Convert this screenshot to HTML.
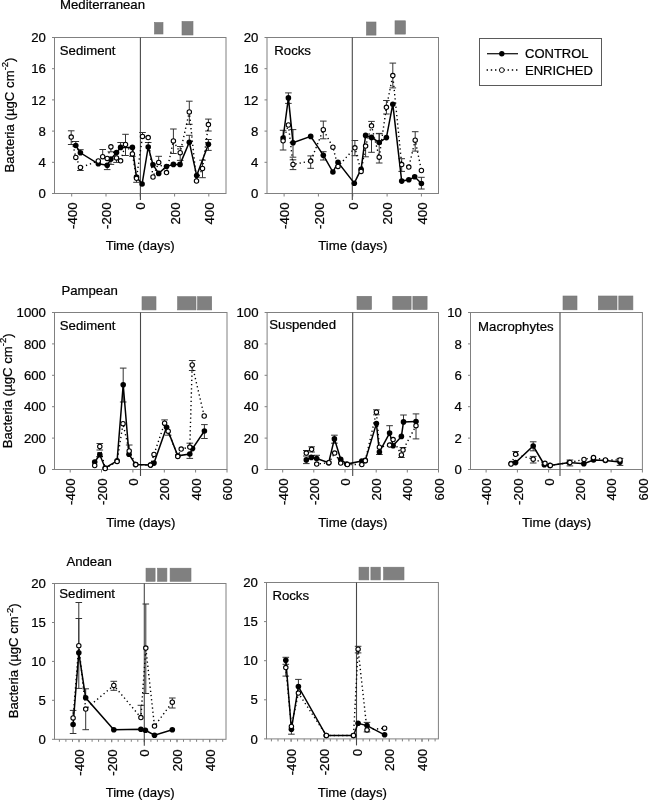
<!DOCTYPE html><html><head><meta charset="utf-8"><style>html,body{margin:0;padding:0;background:#fff;}svg{display:block;will-change:transform;}text{font-family:"Liberation Sans", sans-serif;fill:#000;stroke:#000;stroke-width:0.22px;}</style></head><body>
<svg width="648" height="800" viewBox="0 0 648 800">
<rect width="648" height="800" fill="#fff"/>
<text x="60" y="9.3" font-size="13.2">Mediterranean</text>
<text x="61.4" y="295" font-size="13.2">Pampean</text>
<text x="66.4" y="565.7" font-size="13.2">Andean</text>
<text transform="translate(13.6 115.0) rotate(-90)" font-size="13.2" text-anchor="middle">Bacteria (µgC cm<tspan font-size="9.5" dy="-5.5">-2</tspan><tspan dy="5.5">)</tspan></text>
<text transform="translate(11.8 390.8) rotate(-90)" font-size="13.2" text-anchor="middle">Bacteria (µgC cm<tspan font-size="9.5" dy="-5.5">-2</tspan><tspan dy="5.5">)</tspan></text>
<text transform="translate(18.4 660.8) rotate(-90)" font-size="13.2" text-anchor="middle">Bacteria (µgC cm<tspan font-size="9.5" dy="-5.5">-2</tspan><tspan dy="5.5">)</tspan></text>
<rect x="154.5" y="22.5" width="8.5" height="11.5" fill="#808080" stroke="#757575" stroke-width="0.6"/>
<rect x="182.0" y="21.5" width="11.0" height="13.5" fill="#808080" stroke="#757575" stroke-width="0.6"/>
<rect x="54.5" y="37.5" width="171.5" height="156.0" fill="none" stroke="#808080" stroke-width="1"/>
<line x1="52.0" y1="193.5" x2="54.5" y2="193.5" stroke="#808080" stroke-width="1"/>
<text x="45.9" y="198.1" font-size="13.2" text-anchor="end">0</text>
<line x1="52.0" y1="162.3" x2="54.5" y2="162.3" stroke="#808080" stroke-width="1"/>
<text x="45.9" y="166.9" font-size="13.2" text-anchor="end">4</text>
<line x1="52.0" y1="131.1" x2="54.5" y2="131.1" stroke="#808080" stroke-width="1"/>
<text x="45.9" y="135.7" font-size="13.2" text-anchor="end">8</text>
<line x1="52.0" y1="99.9" x2="54.5" y2="99.9" stroke="#808080" stroke-width="1"/>
<text x="45.9" y="104.5" font-size="13.2" text-anchor="end">12</text>
<line x1="52.0" y1="68.7" x2="54.5" y2="68.7" stroke="#808080" stroke-width="1"/>
<text x="45.9" y="73.3" font-size="13.2" text-anchor="end">16</text>
<line x1="52.0" y1="37.5" x2="54.5" y2="37.5" stroke="#808080" stroke-width="1"/>
<text x="45.9" y="42.1" font-size="13.2" text-anchor="end">20</text>
<line x1="71.7" y1="193.5" x2="71.7" y2="196.5" stroke="#808080" stroke-width="1"/>
<text transform="translate(76.8 202.5) rotate(-90)" font-size="13.2" text-anchor="end">-400</text>
<line x1="106.0" y1="193.5" x2="106.0" y2="196.5" stroke="#808080" stroke-width="1"/>
<text transform="translate(111.0 202.5) rotate(-90)" font-size="13.2" text-anchor="end">-200</text>
<line x1="140.2" y1="193.5" x2="140.2" y2="196.5" stroke="#808080" stroke-width="1"/>
<text transform="translate(145.3 202.5) rotate(-90)" font-size="13.2" text-anchor="end">0</text>
<line x1="174.6" y1="193.5" x2="174.6" y2="196.5" stroke="#808080" stroke-width="1"/>
<text transform="translate(179.7 202.5) rotate(-90)" font-size="13.2" text-anchor="end">200</text>
<line x1="208.8" y1="193.5" x2="208.8" y2="196.5" stroke="#808080" stroke-width="1"/>
<text transform="translate(213.9 202.5) rotate(-90)" font-size="13.2" text-anchor="end">400</text>
<line x1="140.4" y1="37.5" x2="140.4" y2="200.0" stroke="#484848" stroke-width="1.1"/>
<text x="59.8" y="54.9" font-size="13.2">Sediment</text>
<text x="140.2" y="250.4" font-size="13.2" text-anchor="middle">Time (days)</text>
<rect x="366.5" y="22.0" width="9.5" height="13.1" fill="#808080" stroke="#757575" stroke-width="0.6"/>
<rect x="395.0" y="20.8" width="10.4" height="13.3" fill="#808080" stroke="#757575" stroke-width="0.6"/>
<rect x="267.0" y="37.5" width="171.5" height="156.0" fill="none" stroke="#808080" stroke-width="1"/>
<line x1="264.5" y1="193.5" x2="267.0" y2="193.5" stroke="#808080" stroke-width="1"/>
<text x="258.4" y="198.1" font-size="13.2" text-anchor="end">0</text>
<line x1="264.5" y1="162.3" x2="267.0" y2="162.3" stroke="#808080" stroke-width="1"/>
<text x="258.4" y="166.9" font-size="13.2" text-anchor="end">4</text>
<line x1="264.5" y1="131.1" x2="267.0" y2="131.1" stroke="#808080" stroke-width="1"/>
<text x="258.4" y="135.7" font-size="13.2" text-anchor="end">8</text>
<line x1="264.5" y1="99.9" x2="267.0" y2="99.9" stroke="#808080" stroke-width="1"/>
<text x="258.4" y="104.5" font-size="13.2" text-anchor="end">12</text>
<line x1="264.5" y1="68.7" x2="267.0" y2="68.7" stroke="#808080" stroke-width="1"/>
<text x="258.4" y="73.3" font-size="13.2" text-anchor="end">16</text>
<line x1="264.5" y1="37.5" x2="267.0" y2="37.5" stroke="#808080" stroke-width="1"/>
<text x="258.4" y="42.1" font-size="13.2" text-anchor="end">20</text>
<line x1="284.1" y1="193.5" x2="284.1" y2="196.5" stroke="#808080" stroke-width="1"/>
<text transform="translate(289.2 202.5) rotate(-90)" font-size="13.2" text-anchor="end">-400</text>
<line x1="318.4" y1="193.5" x2="318.4" y2="196.5" stroke="#808080" stroke-width="1"/>
<text transform="translate(323.6 202.5) rotate(-90)" font-size="13.2" text-anchor="end">-200</text>
<line x1="352.8" y1="193.5" x2="352.8" y2="196.5" stroke="#808080" stroke-width="1"/>
<text transform="translate(357.9 202.5) rotate(-90)" font-size="13.2" text-anchor="end">0</text>
<line x1="387.1" y1="193.5" x2="387.1" y2="196.5" stroke="#808080" stroke-width="1"/>
<text transform="translate(392.2 202.5) rotate(-90)" font-size="13.2" text-anchor="end">200</text>
<line x1="421.4" y1="193.5" x2="421.4" y2="196.5" stroke="#808080" stroke-width="1"/>
<text transform="translate(426.5 202.5) rotate(-90)" font-size="13.2" text-anchor="end">400</text>
<line x1="352.3" y1="37.5" x2="352.3" y2="200.0" stroke="#484848" stroke-width="1.1"/>
<text x="274.3" y="54.9" font-size="13.2">Rocks</text>
<text x="352.8" y="250.4" font-size="13.2" text-anchor="middle">Time (days)</text>
<rect x="142.0" y="296.7" width="14.0" height="13.2" fill="#808080" stroke="#757575" stroke-width="0.6"/>
<rect x="177.6" y="296.7" width="18.4" height="13.2" fill="#808080" stroke="#757575" stroke-width="0.6"/>
<rect x="197.6" y="296.7" width="14.1" height="13.2" fill="#808080" stroke="#757575" stroke-width="0.6"/>
<rect x="54.5" y="312.5" width="172.5" height="157.0" fill="none" stroke="#808080" stroke-width="1"/>
<line x1="52.0" y1="469.5" x2="54.5" y2="469.5" stroke="#808080" stroke-width="1"/>
<text x="45.9" y="474.1" font-size="13.2" text-anchor="end">0</text>
<line x1="52.0" y1="438.1" x2="54.5" y2="438.1" stroke="#808080" stroke-width="1"/>
<text x="45.9" y="442.7" font-size="13.2" text-anchor="end">200</text>
<line x1="52.0" y1="406.7" x2="54.5" y2="406.7" stroke="#808080" stroke-width="1"/>
<text x="45.9" y="411.3" font-size="13.2" text-anchor="end">400</text>
<line x1="52.0" y1="375.3" x2="54.5" y2="375.3" stroke="#808080" stroke-width="1"/>
<text x="45.9" y="379.9" font-size="13.2" text-anchor="end">600</text>
<line x1="52.0" y1="343.9" x2="54.5" y2="343.9" stroke="#808080" stroke-width="1"/>
<text x="45.9" y="348.5" font-size="13.2" text-anchor="end">800</text>
<line x1="52.0" y1="312.5" x2="54.5" y2="312.5" stroke="#808080" stroke-width="1"/>
<text x="45.9" y="317.1" font-size="13.2" text-anchor="end">1000</text>
<line x1="70.2" y1="469.5" x2="70.2" y2="472.5" stroke="#808080" stroke-width="1"/>
<text transform="translate(75.3 478.5) rotate(-90)" font-size="13.2" text-anchor="end">-400</text>
<line x1="101.5" y1="469.5" x2="101.5" y2="472.5" stroke="#808080" stroke-width="1"/>
<text transform="translate(106.6 478.5) rotate(-90)" font-size="13.2" text-anchor="end">-200</text>
<line x1="132.9" y1="469.5" x2="132.9" y2="472.5" stroke="#808080" stroke-width="1"/>
<text transform="translate(138.0 478.5) rotate(-90)" font-size="13.2" text-anchor="end">0</text>
<line x1="164.3" y1="469.5" x2="164.3" y2="472.5" stroke="#808080" stroke-width="1"/>
<text transform="translate(169.4 478.5) rotate(-90)" font-size="13.2" text-anchor="end">200</text>
<line x1="195.6" y1="469.5" x2="195.6" y2="472.5" stroke="#808080" stroke-width="1"/>
<text transform="translate(200.7 478.5) rotate(-90)" font-size="13.2" text-anchor="end">400</text>
<line x1="227.0" y1="469.5" x2="227.0" y2="472.5" stroke="#808080" stroke-width="1"/>
<text transform="translate(232.1 478.5) rotate(-90)" font-size="13.2" text-anchor="end">600</text>
<line x1="140.5" y1="312.5" x2="140.5" y2="476.0" stroke="#484848" stroke-width="1.1"/>
<text x="59.8" y="329.9" font-size="13.2">Sediment</text>
<text x="140.8" y="526.5" font-size="13.2" text-anchor="middle">Time (days)</text>
<rect x="357.0" y="296.3" width="14.5" height="13.2" fill="#808080" stroke="#757575" stroke-width="0.6"/>
<rect x="392.8" y="296.3" width="18.3" height="13.2" fill="#808080" stroke="#757575" stroke-width="0.6"/>
<rect x="412.9" y="296.3" width="14.2" height="13.2" fill="#808080" stroke="#757575" stroke-width="0.6"/>
<rect x="267.1" y="312.5" width="171.4" height="157.0" fill="none" stroke="#808080" stroke-width="1"/>
<line x1="264.6" y1="469.5" x2="267.1" y2="469.5" stroke="#808080" stroke-width="1"/>
<text x="258.5" y="474.1" font-size="13.2" text-anchor="end">0</text>
<line x1="264.6" y1="438.1" x2="267.1" y2="438.1" stroke="#808080" stroke-width="1"/>
<text x="258.5" y="442.7" font-size="13.2" text-anchor="end">20</text>
<line x1="264.6" y1="406.7" x2="267.1" y2="406.7" stroke="#808080" stroke-width="1"/>
<text x="258.5" y="411.3" font-size="13.2" text-anchor="end">40</text>
<line x1="264.6" y1="375.3" x2="267.1" y2="375.3" stroke="#808080" stroke-width="1"/>
<text x="258.5" y="379.9" font-size="13.2" text-anchor="end">60</text>
<line x1="264.6" y1="343.9" x2="267.1" y2="343.9" stroke="#808080" stroke-width="1"/>
<text x="258.5" y="348.5" font-size="13.2" text-anchor="end">80</text>
<line x1="264.6" y1="312.5" x2="267.1" y2="312.5" stroke="#808080" stroke-width="1"/>
<text x="258.5" y="317.1" font-size="13.2" text-anchor="end">100</text>
<line x1="282.7" y1="469.5" x2="282.7" y2="472.5" stroke="#808080" stroke-width="1"/>
<text transform="translate(287.8 478.5) rotate(-90)" font-size="13.2" text-anchor="end">-400</text>
<line x1="313.8" y1="469.5" x2="313.8" y2="472.5" stroke="#808080" stroke-width="1"/>
<text transform="translate(318.9 478.5) rotate(-90)" font-size="13.2" text-anchor="end">-200</text>
<line x1="345.0" y1="469.5" x2="345.0" y2="472.5" stroke="#808080" stroke-width="1"/>
<text transform="translate(350.1 478.5) rotate(-90)" font-size="13.2" text-anchor="end">0</text>
<line x1="376.2" y1="469.5" x2="376.2" y2="472.5" stroke="#808080" stroke-width="1"/>
<text transform="translate(381.3 478.5) rotate(-90)" font-size="13.2" text-anchor="end">200</text>
<line x1="407.3" y1="469.5" x2="407.3" y2="472.5" stroke="#808080" stroke-width="1"/>
<text transform="translate(412.4 478.5) rotate(-90)" font-size="13.2" text-anchor="end">400</text>
<line x1="438.5" y1="469.5" x2="438.5" y2="472.5" stroke="#808080" stroke-width="1"/>
<text transform="translate(443.6 478.5) rotate(-90)" font-size="13.2" text-anchor="end">600</text>
<line x1="352.7" y1="312.5" x2="352.7" y2="476.0" stroke="#484848" stroke-width="1.1"/>
<text x="269.3" y="329.2" font-size="13.2">Suspended</text>
<text x="352.8" y="526.5" font-size="13.2" text-anchor="middle">Time (days)</text>
<rect x="563.0" y="296.0" width="14.0" height="13.8" fill="#808080" stroke="#757575" stroke-width="0.6"/>
<rect x="598.4" y="296.0" width="18.6" height="13.8" fill="#808080" stroke="#757575" stroke-width="0.6"/>
<rect x="618.8" y="296.0" width="14.1" height="13.8" fill="#808080" stroke="#757575" stroke-width="0.6"/>
<rect x="470.5" y="312.5" width="171.9" height="157.0" fill="none" stroke="#808080" stroke-width="1"/>
<line x1="468.0" y1="469.5" x2="470.5" y2="469.5" stroke="#808080" stroke-width="1"/>
<text x="461.9" y="474.1" font-size="13.2" text-anchor="end">0</text>
<line x1="468.0" y1="438.1" x2="470.5" y2="438.1" stroke="#808080" stroke-width="1"/>
<text x="461.9" y="442.7" font-size="13.2" text-anchor="end">2</text>
<line x1="468.0" y1="406.7" x2="470.5" y2="406.7" stroke="#808080" stroke-width="1"/>
<text x="461.9" y="411.3" font-size="13.2" text-anchor="end">4</text>
<line x1="468.0" y1="375.3" x2="470.5" y2="375.3" stroke="#808080" stroke-width="1"/>
<text x="461.9" y="379.9" font-size="13.2" text-anchor="end">6</text>
<line x1="468.0" y1="343.9" x2="470.5" y2="343.9" stroke="#808080" stroke-width="1"/>
<text x="461.9" y="348.5" font-size="13.2" text-anchor="end">8</text>
<line x1="468.0" y1="312.5" x2="470.5" y2="312.5" stroke="#808080" stroke-width="1"/>
<text x="461.9" y="317.1" font-size="13.2" text-anchor="end">10</text>
<line x1="486.1" y1="469.5" x2="486.1" y2="472.5" stroke="#808080" stroke-width="1"/>
<text transform="translate(491.2 478.5) rotate(-90)" font-size="13.2" text-anchor="end">-400</text>
<line x1="517.4" y1="469.5" x2="517.4" y2="472.5" stroke="#808080" stroke-width="1"/>
<text transform="translate(522.5 478.5) rotate(-90)" font-size="13.2" text-anchor="end">-200</text>
<line x1="548.6" y1="469.5" x2="548.6" y2="472.5" stroke="#808080" stroke-width="1"/>
<text transform="translate(553.7 478.5) rotate(-90)" font-size="13.2" text-anchor="end">0</text>
<line x1="579.9" y1="469.5" x2="579.9" y2="472.5" stroke="#808080" stroke-width="1"/>
<text transform="translate(585.0 478.5) rotate(-90)" font-size="13.2" text-anchor="end">200</text>
<line x1="611.1" y1="469.5" x2="611.1" y2="472.5" stroke="#808080" stroke-width="1"/>
<text transform="translate(616.2 478.5) rotate(-90)" font-size="13.2" text-anchor="end">400</text>
<line x1="642.4" y1="469.5" x2="642.4" y2="472.5" stroke="#808080" stroke-width="1"/>
<text transform="translate(647.5 478.5) rotate(-90)" font-size="13.2" text-anchor="end">600</text>
<line x1="560.0" y1="312.5" x2="560.0" y2="476.0" stroke="#484848" stroke-width="1.1"/>
<text x="478.1" y="330.6" font-size="13.2">Macrophytes</text>
<text x="556.5" y="526.5" font-size="13.2" text-anchor="middle">Time (days)</text>
<rect x="146.0" y="568.2" width="9.1" height="13.1" fill="#808080" stroke="#757575" stroke-width="0.6"/>
<rect x="157.6" y="568.2" width="9.3" height="13.1" fill="#808080" stroke="#757575" stroke-width="0.6"/>
<rect x="170.1" y="568.2" width="20.9" height="13.1" fill="#808080" stroke="#757575" stroke-width="0.6"/>
<rect x="54.5" y="583.5" width="171.5" height="155.8" fill="none" stroke="#808080" stroke-width="1"/>
<line x1="52.0" y1="739.3" x2="54.5" y2="739.3" stroke="#808080" stroke-width="1"/>
<text x="45.9" y="743.9" font-size="13.2" text-anchor="end">0</text>
<line x1="52.0" y1="700.3" x2="54.5" y2="700.3" stroke="#808080" stroke-width="1"/>
<text x="45.9" y="704.9" font-size="13.2" text-anchor="end">5</text>
<line x1="52.0" y1="661.4" x2="54.5" y2="661.4" stroke="#808080" stroke-width="1"/>
<text x="45.9" y="666.0" font-size="13.2" text-anchor="end">10</text>
<line x1="52.0" y1="622.5" x2="54.5" y2="622.5" stroke="#808080" stroke-width="1"/>
<text x="45.9" y="627.1" font-size="13.2" text-anchor="end">15</text>
<line x1="52.0" y1="583.5" x2="54.5" y2="583.5" stroke="#808080" stroke-width="1"/>
<text x="45.9" y="588.1" font-size="13.2" text-anchor="end">20</text>
<line x1="59.4" y1="739.3" x2="59.4" y2="741.8" stroke="#808080" stroke-width="1"/>
<line x1="65.9" y1="739.3" x2="65.9" y2="741.8" stroke="#808080" stroke-width="1"/>
<line x1="72.5" y1="739.3" x2="72.5" y2="741.8" stroke="#808080" stroke-width="1"/>
<line x1="79.0" y1="739.3" x2="79.0" y2="741.8" stroke="#808080" stroke-width="1"/>
<line x1="85.5" y1="739.3" x2="85.5" y2="741.8" stroke="#808080" stroke-width="1"/>
<line x1="92.1" y1="739.3" x2="92.1" y2="741.8" stroke="#808080" stroke-width="1"/>
<line x1="98.6" y1="739.3" x2="98.6" y2="741.8" stroke="#808080" stroke-width="1"/>
<line x1="105.1" y1="739.3" x2="105.1" y2="741.8" stroke="#808080" stroke-width="1"/>
<line x1="111.7" y1="739.3" x2="111.7" y2="741.8" stroke="#808080" stroke-width="1"/>
<line x1="118.2" y1="739.3" x2="118.2" y2="741.8" stroke="#808080" stroke-width="1"/>
<line x1="124.7" y1="739.3" x2="124.7" y2="741.8" stroke="#808080" stroke-width="1"/>
<line x1="131.3" y1="739.3" x2="131.3" y2="741.8" stroke="#808080" stroke-width="1"/>
<line x1="137.8" y1="739.3" x2="137.8" y2="741.8" stroke="#808080" stroke-width="1"/>
<line x1="144.3" y1="739.3" x2="144.3" y2="741.8" stroke="#808080" stroke-width="1"/>
<line x1="150.9" y1="739.3" x2="150.9" y2="741.8" stroke="#808080" stroke-width="1"/>
<line x1="157.4" y1="739.3" x2="157.4" y2="741.8" stroke="#808080" stroke-width="1"/>
<line x1="163.9" y1="739.3" x2="163.9" y2="741.8" stroke="#808080" stroke-width="1"/>
<line x1="170.5" y1="739.3" x2="170.5" y2="741.8" stroke="#808080" stroke-width="1"/>
<line x1="177.0" y1="739.3" x2="177.0" y2="741.8" stroke="#808080" stroke-width="1"/>
<line x1="183.5" y1="739.3" x2="183.5" y2="741.8" stroke="#808080" stroke-width="1"/>
<line x1="190.1" y1="739.3" x2="190.1" y2="741.8" stroke="#808080" stroke-width="1"/>
<line x1="196.6" y1="739.3" x2="196.6" y2="741.8" stroke="#808080" stroke-width="1"/>
<line x1="203.1" y1="739.3" x2="203.1" y2="741.8" stroke="#808080" stroke-width="1"/>
<line x1="209.7" y1="739.3" x2="209.7" y2="741.8" stroke="#808080" stroke-width="1"/>
<line x1="216.2" y1="739.3" x2="216.2" y2="741.8" stroke="#808080" stroke-width="1"/>
<line x1="222.7" y1="739.3" x2="222.7" y2="741.8" stroke="#808080" stroke-width="1"/>
<line x1="79.0" y1="739.3" x2="79.0" y2="742.3" stroke="#808080" stroke-width="1"/>
<text transform="translate(84.1 749.3) rotate(-90)" font-size="13.2" text-anchor="end">-400</text>
<line x1="111.7" y1="739.3" x2="111.7" y2="742.3" stroke="#808080" stroke-width="1"/>
<text transform="translate(116.8 749.3) rotate(-90)" font-size="13.2" text-anchor="end">-200</text>
<line x1="144.3" y1="739.3" x2="144.3" y2="742.3" stroke="#808080" stroke-width="1"/>
<text transform="translate(149.4 749.3) rotate(-90)" font-size="13.2" text-anchor="end">0</text>
<line x1="177.0" y1="739.3" x2="177.0" y2="742.3" stroke="#808080" stroke-width="1"/>
<text transform="translate(182.1 749.3) rotate(-90)" font-size="13.2" text-anchor="end">200</text>
<line x1="209.7" y1="739.3" x2="209.7" y2="742.3" stroke="#808080" stroke-width="1"/>
<text transform="translate(214.8 749.3) rotate(-90)" font-size="13.2" text-anchor="end">400</text>
<line x1="144.3" y1="583.5" x2="144.3" y2="745.8" stroke="#484848" stroke-width="1.1"/>
<text x="59.3" y="597.7" font-size="13.2">Sediment</text>
<text x="140.2" y="796.5" font-size="13.2" text-anchor="middle">Time (days)</text>
<rect x="359.0" y="567.2" width="9.8" height="12.7" fill="#808080" stroke="#757575" stroke-width="0.6"/>
<rect x="370.9" y="567.2" width="9.4" height="12.7" fill="#808080" stroke="#757575" stroke-width="0.6"/>
<rect x="383.6" y="567.2" width="20.4" height="12.7" fill="#808080" stroke="#757575" stroke-width="0.6"/>
<rect x="266.5" y="582.5" width="171.9" height="156.4" fill="none" stroke="#808080" stroke-width="1"/>
<line x1="264.0" y1="738.9" x2="266.5" y2="738.9" stroke="#808080" stroke-width="1"/>
<text x="257.9" y="743.5" font-size="13.2" text-anchor="end">0</text>
<line x1="264.0" y1="699.8" x2="266.5" y2="699.8" stroke="#808080" stroke-width="1"/>
<text x="257.9" y="704.4" font-size="13.2" text-anchor="end">5</text>
<line x1="264.0" y1="660.7" x2="266.5" y2="660.7" stroke="#808080" stroke-width="1"/>
<text x="257.9" y="665.3" font-size="13.2" text-anchor="end">10</text>
<line x1="264.0" y1="621.6" x2="266.5" y2="621.6" stroke="#808080" stroke-width="1"/>
<text x="257.9" y="626.2" font-size="13.2" text-anchor="end">15</text>
<line x1="264.0" y1="582.5" x2="266.5" y2="582.5" stroke="#808080" stroke-width="1"/>
<text x="257.9" y="587.1" font-size="13.2" text-anchor="end">20</text>
<line x1="271.4" y1="738.9" x2="271.4" y2="741.4" stroke="#808080" stroke-width="1"/>
<line x1="278.0" y1="738.9" x2="278.0" y2="741.4" stroke="#808080" stroke-width="1"/>
<line x1="284.5" y1="738.9" x2="284.5" y2="741.4" stroke="#808080" stroke-width="1"/>
<line x1="291.1" y1="738.9" x2="291.1" y2="741.4" stroke="#808080" stroke-width="1"/>
<line x1="297.6" y1="738.9" x2="297.6" y2="741.4" stroke="#808080" stroke-width="1"/>
<line x1="304.2" y1="738.9" x2="304.2" y2="741.4" stroke="#808080" stroke-width="1"/>
<line x1="310.7" y1="738.9" x2="310.7" y2="741.4" stroke="#808080" stroke-width="1"/>
<line x1="317.3" y1="738.9" x2="317.3" y2="741.4" stroke="#808080" stroke-width="1"/>
<line x1="323.8" y1="738.9" x2="323.8" y2="741.4" stroke="#808080" stroke-width="1"/>
<line x1="330.3" y1="738.9" x2="330.3" y2="741.4" stroke="#808080" stroke-width="1"/>
<line x1="336.9" y1="738.9" x2="336.9" y2="741.4" stroke="#808080" stroke-width="1"/>
<line x1="343.4" y1="738.9" x2="343.4" y2="741.4" stroke="#808080" stroke-width="1"/>
<line x1="350.0" y1="738.9" x2="350.0" y2="741.4" stroke="#808080" stroke-width="1"/>
<line x1="356.5" y1="738.9" x2="356.5" y2="741.4" stroke="#808080" stroke-width="1"/>
<line x1="363.1" y1="738.9" x2="363.1" y2="741.4" stroke="#808080" stroke-width="1"/>
<line x1="369.6" y1="738.9" x2="369.6" y2="741.4" stroke="#808080" stroke-width="1"/>
<line x1="376.2" y1="738.9" x2="376.2" y2="741.4" stroke="#808080" stroke-width="1"/>
<line x1="382.7" y1="738.9" x2="382.7" y2="741.4" stroke="#808080" stroke-width="1"/>
<line x1="389.3" y1="738.9" x2="389.3" y2="741.4" stroke="#808080" stroke-width="1"/>
<line x1="395.8" y1="738.9" x2="395.8" y2="741.4" stroke="#808080" stroke-width="1"/>
<line x1="402.4" y1="738.9" x2="402.4" y2="741.4" stroke="#808080" stroke-width="1"/>
<line x1="408.9" y1="738.9" x2="408.9" y2="741.4" stroke="#808080" stroke-width="1"/>
<line x1="415.5" y1="738.9" x2="415.5" y2="741.4" stroke="#808080" stroke-width="1"/>
<line x1="422.0" y1="738.9" x2="422.0" y2="741.4" stroke="#808080" stroke-width="1"/>
<line x1="428.6" y1="738.9" x2="428.6" y2="741.4" stroke="#808080" stroke-width="1"/>
<line x1="435.1" y1="738.9" x2="435.1" y2="741.4" stroke="#808080" stroke-width="1"/>
<line x1="291.1" y1="738.9" x2="291.1" y2="741.9" stroke="#808080" stroke-width="1"/>
<text transform="translate(296.2 748.9) rotate(-90)" font-size="13.2" text-anchor="end">-400</text>
<line x1="323.8" y1="738.9" x2="323.8" y2="741.9" stroke="#808080" stroke-width="1"/>
<text transform="translate(328.9 748.9) rotate(-90)" font-size="13.2" text-anchor="end">-200</text>
<line x1="356.5" y1="738.9" x2="356.5" y2="741.9" stroke="#808080" stroke-width="1"/>
<text transform="translate(361.6 748.9) rotate(-90)" font-size="13.2" text-anchor="end">0</text>
<line x1="389.3" y1="738.9" x2="389.3" y2="741.9" stroke="#808080" stroke-width="1"/>
<text transform="translate(394.4 748.9) rotate(-90)" font-size="13.2" text-anchor="end">200</text>
<line x1="422.0" y1="738.9" x2="422.0" y2="741.9" stroke="#808080" stroke-width="1"/>
<text transform="translate(427.1 748.9) rotate(-90)" font-size="13.2" text-anchor="end">400</text>
<line x1="356.5" y1="582.5" x2="356.5" y2="745.4" stroke="#484848" stroke-width="1.1"/>
<text x="272.4" y="600.1" font-size="13.2">Rocks</text>
<text x="352.4" y="796.5" font-size="13.2" text-anchor="middle">Time (days)</text>
<rect x="479.5" y="38.5" width="122" height="47" fill="#fff" stroke="#5a5a5a" stroke-width="1"/>
<line x1="487" y1="53.7" x2="518" y2="53.7" stroke="#1a1a1a" stroke-width="1.3"/>
<circle cx="501.8" cy="53.7" r="2.7" fill="#000"/>
<line x1="486.6" y1="70.1" x2="518" y2="70.1" stroke="#000" stroke-width="1.5" stroke-dasharray="1.4 2.8"/>
<circle cx="501.8" cy="70.1" r="2.4" fill="#fff" stroke="#000" stroke-width="0.9"/>
<text x="525" y="58.2" font-size="13">CONTROL</text>
<text x="525" y="74.9" font-size="13">ENRICHED</text>
<g>
<path d="M75.8 145.5V141.5M72.5 141.5H79.1" stroke="#333" stroke-width="1" fill="none"/>
<path d="M80.4 152.8V149.7M77.1 149.7H83.7" stroke="#333" stroke-width="1" fill="none"/>

<path d="M107.2 165.2V169.6M103.9 169.6H110.5" stroke="#333" stroke-width="1" fill="none"/>
<path d="M110.9 159.1V164.4M107.6 164.4H114.2" stroke="#333" stroke-width="1" fill="none"/>

<path d="M120.6 147.4V142.5M117.3 142.5H123.9" stroke="#333" stroke-width="1" fill="none"/>



<path d="M148.2 147.0V142.5M144.9 142.5H151.5" stroke="#333" stroke-width="1" fill="none"/>





<path d="M189.3 142.2V135.3M186.0 135.3H192.6" stroke="#333" stroke-width="1" fill="none"/>

<path d="M208.4 144.3V139.5M205.1 139.5H211.7" stroke="#333" stroke-width="1" fill="none"/><path d="M208.4 144.3V150.4M205.1 150.4H211.7" stroke="#333" stroke-width="1" fill="none"/>
<path d="M71.2 137.1V130.8M67.9 130.8H74.5" stroke="#333" stroke-width="1" fill="none"/><path d="M71.2 137.1V144.5M67.9 144.5H74.5" stroke="#333" stroke-width="1" fill="none"/>

<path d="M80.4 167.5V170.5M77.1 170.5H83.7" stroke="#333" stroke-width="1" fill="none"/>

<path d="M102.7 156.7V149.5M99.4 149.5H106.0" stroke="#333" stroke-width="1" fill="none"/>

<path d="M110.9 146.8V151.8M107.6 151.8H114.2" stroke="#333" stroke-width="1" fill="none"/>
<path d="M116.5 157.9V162.4M113.2 162.4H119.8" stroke="#333" stroke-width="1" fill="none"/>

<path d="M125.5 144.5V134.3M122.2 134.3H128.8" stroke="#333" stroke-width="1" fill="none"/><path d="M125.5 144.5V155.5M122.2 155.5H128.8" stroke="#333" stroke-width="1" fill="none"/>
<path d="M132.4 153.9V156.3M129.1 156.3H135.7" stroke="#333" stroke-width="1" fill="none"/>
<path d="M136.5 178.3V182.3M133.2 182.3H139.8" stroke="#333" stroke-width="1" fill="none"/>
<path d="M142.5 136.4V132.5M139.2 132.5H145.8" stroke="#333" stroke-width="1" fill="none"/>


<path d="M158.7 162.4V156.3M155.4 156.3H162.0" stroke="#333" stroke-width="1" fill="none"/>

<path d="M173.4 140.9V129.0M170.1 129.0H176.7" stroke="#333" stroke-width="1" fill="none"/><path d="M173.4 140.9V153.5M170.1 153.5H176.7" stroke="#333" stroke-width="1" fill="none"/>
<path d="M180.2 152.7V146.5M176.9 146.5H183.5" stroke="#333" stroke-width="1" fill="none"/><path d="M180.2 152.7V160.4M176.9 160.4H183.5" stroke="#333" stroke-width="1" fill="none"/>
<path d="M189.3 111.9V101.2M186.0 101.2H192.6" stroke="#333" stroke-width="1" fill="none"/><path d="M189.3 111.9V124.3M186.0 124.3H192.6" stroke="#333" stroke-width="1" fill="none"/>

<path d="M202.5 168.5V160.2M199.2 160.2H205.8" stroke="#333" stroke-width="1" fill="none"/><path d="M202.5 168.5V177.7M199.2 177.7H205.8" stroke="#333" stroke-width="1" fill="none"/>
<path d="M208.4 124.6V119.1M205.1 119.1H211.7" stroke="#333" stroke-width="1" fill="none"/><path d="M208.4 124.6V131.0M205.1 131.0H211.7" stroke="#333" stroke-width="1" fill="none"/>
<polyline points="71.2,137.1 75.8,157.4 80.4,167.5 98.3,161.0 102.7,156.7 107.2,158.4 110.9,146.8 116.5,157.9 120.6,160.8 125.5,144.5 132.4,153.9 136.5,178.3 142.5,136.4 148.2,137.6 153.0,177.0 158.7,162.4 166.5,172.6 173.4,140.9 180.2,152.7 189.3,111.9 196.5,181.0 202.5,168.5 208.4,124.6" fill="none" stroke="#000" stroke-width="1.4" stroke-dasharray="1.3 2.9"/>
<polyline points="75.8,145.5 80.4,152.8 98.3,163.8 107.2,165.2 110.9,159.1 116.5,152.6 120.6,147.4 132.4,147.4 136.5,177.0 142.1,184.0 148.2,147.0 153.0,164.8 158.7,173.4 166.5,166.5 173.4,164.4 180.0,164.4 189.3,142.2 196.7,175.6 208.4,144.3" fill="none" stroke="#000" stroke-width="1.5"/>
<circle cx="75.8" cy="145.5" r="2.8" fill="#000"/>
<circle cx="80.4" cy="152.8" r="2.8" fill="#000"/>
<circle cx="98.3" cy="163.8" r="2.8" fill="#000"/>
<circle cx="107.2" cy="165.2" r="2.8" fill="#000"/>
<circle cx="110.9" cy="159.1" r="2.8" fill="#000"/>
<circle cx="116.5" cy="152.6" r="2.8" fill="#000"/>
<circle cx="120.6" cy="147.4" r="2.8" fill="#000"/>
<circle cx="132.4" cy="147.4" r="2.8" fill="#000"/>
<circle cx="136.5" cy="177.0" r="2.8" fill="#000"/>
<circle cx="142.1" cy="184.0" r="2.8" fill="#000"/>
<circle cx="148.2" cy="147.0" r="2.8" fill="#000"/>
<circle cx="153.0" cy="164.8" r="2.8" fill="#000"/>
<circle cx="158.7" cy="173.4" r="2.8" fill="#000"/>
<circle cx="166.5" cy="166.5" r="2.8" fill="#000"/>
<circle cx="173.4" cy="164.4" r="2.8" fill="#000"/>
<circle cx="180.0" cy="164.4" r="2.8" fill="#000"/>
<circle cx="189.3" cy="142.2" r="2.8" fill="#000"/>
<circle cx="196.7" cy="175.6" r="2.8" fill="#000"/>
<circle cx="208.4" cy="144.3" r="2.8" fill="#000"/>
<circle cx="71.2" cy="137.1" r="2.2" fill="#fff" stroke="#000" stroke-width="1.1"/>
<circle cx="75.8" cy="157.4" r="2.2" fill="#fff" stroke="#000" stroke-width="1.1"/>
<circle cx="80.4" cy="167.5" r="2.2" fill="#fff" stroke="#000" stroke-width="1.1"/>
<circle cx="98.3" cy="161.0" r="2.2" fill="#fff" stroke="#000" stroke-width="1.1"/>
<circle cx="102.7" cy="156.7" r="2.2" fill="#fff" stroke="#000" stroke-width="1.1"/>
<circle cx="107.2" cy="158.4" r="2.2" fill="#fff" stroke="#000" stroke-width="1.1"/>
<circle cx="110.9" cy="146.8" r="2.2" fill="#fff" stroke="#000" stroke-width="1.1"/>
<circle cx="116.5" cy="157.9" r="2.2" fill="#fff" stroke="#000" stroke-width="1.1"/>
<circle cx="120.6" cy="160.8" r="2.2" fill="#fff" stroke="#000" stroke-width="1.1"/>
<circle cx="125.5" cy="144.5" r="2.2" fill="#fff" stroke="#000" stroke-width="1.1"/>
<circle cx="132.4" cy="153.9" r="2.2" fill="#fff" stroke="#000" stroke-width="1.1"/>
<circle cx="136.5" cy="178.3" r="2.2" fill="#fff" stroke="#000" stroke-width="1.1"/>
<circle cx="142.5" cy="136.4" r="2.2" fill="#fff" stroke="#000" stroke-width="1.1"/>
<circle cx="148.2" cy="137.6" r="2.2" fill="#fff" stroke="#000" stroke-width="1.1"/>
<circle cx="153.0" cy="177.0" r="2.2" fill="#fff" stroke="#000" stroke-width="1.1"/>
<circle cx="158.7" cy="162.4" r="2.2" fill="#fff" stroke="#000" stroke-width="1.1"/>
<circle cx="166.5" cy="172.6" r="2.2" fill="#fff" stroke="#000" stroke-width="1.1"/>
<circle cx="173.4" cy="140.9" r="2.2" fill="#fff" stroke="#000" stroke-width="1.1"/>
<circle cx="180.2" cy="152.7" r="2.2" fill="#fff" stroke="#000" stroke-width="1.1"/>
<circle cx="189.3" cy="111.9" r="2.2" fill="#fff" stroke="#000" stroke-width="1.1"/>
<circle cx="196.5" cy="181.0" r="2.2" fill="#fff" stroke="#000" stroke-width="1.1"/>
<circle cx="202.5" cy="168.5" r="2.2" fill="#fff" stroke="#000" stroke-width="1.1"/>
<circle cx="208.4" cy="124.6" r="2.2" fill="#fff" stroke="#000" stroke-width="1.1"/>
</g>
<g>

<path d="M288.4 97.9V92.9M285.1 92.9H291.7" stroke="#333" stroke-width="1" fill="none"/><path d="M288.4 97.9V103.4M285.1 103.4H291.7" stroke="#333" stroke-width="1" fill="none"/>
<path d="M293.0 142.7V129.6M289.7 129.6H296.3" stroke="#333" stroke-width="1" fill="none"/><path d="M293.0 142.7V157.2M289.7 157.2H296.3" stroke="#333" stroke-width="1" fill="none"/>

<path d="M323.3 155.2V151.7M320.0 151.7H326.6" stroke="#333" stroke-width="1" fill="none"/><path d="M323.3 155.2V160.0M320.0 160.0H326.6" stroke="#333" stroke-width="1" fill="none"/>





<path d="M371.5 137.4V152.3M368.2 152.3H374.8" stroke="#333" stroke-width="1" fill="none"/>
<path d="M379.2 142.5V133.4M375.9 133.4H382.5" stroke="#333" stroke-width="1" fill="none"/>





<path d="M421.4 183.5V177.3M418.1 177.3H424.7" stroke="#333" stroke-width="1" fill="none"/><path d="M421.4 183.5V189.0M418.1 189.0H424.7" stroke="#333" stroke-width="1" fill="none"/>
<path d="M283.1 140.8V130.3M279.8 130.3H286.4" stroke="#333" stroke-width="1" fill="none"/><path d="M283.1 140.8V150.0M279.8 150.0H286.4" stroke="#333" stroke-width="1" fill="none"/>

<path d="M293.0 164.4V159.8M289.7 159.8H296.3" stroke="#333" stroke-width="1" fill="none"/><path d="M293.0 164.4V169.6M289.7 169.6H296.3" stroke="#333" stroke-width="1" fill="none"/>
<path d="M310.7 161.1V155.9M307.4 155.9H314.0" stroke="#333" stroke-width="1" fill="none"/><path d="M310.7 161.1V168.3M307.4 168.3H314.0" stroke="#333" stroke-width="1" fill="none"/>
<path d="M323.3 129.7V121.1M320.0 121.1H326.6" stroke="#333" stroke-width="1" fill="none"/><path d="M323.3 129.7V138.8M320.0 138.8H326.6" stroke="#333" stroke-width="1" fill="none"/>


<path d="M354.9 147.8V140.5M351.6 140.5H358.2" stroke="#333" stroke-width="1" fill="none"/><path d="M354.9 147.8V155.7M351.6 155.7H358.2" stroke="#333" stroke-width="1" fill="none"/>

<path d="M365.6 146.1V156.8M362.3 156.8H368.9" stroke="#333" stroke-width="1" fill="none"/>
<path d="M371.5 125.8V121.4M368.2 121.4H374.8" stroke="#333" stroke-width="1" fill="none"/>
<path d="M379.2 157.2V133.7M375.9 133.7H382.5" stroke="#333" stroke-width="1" fill="none"/><path d="M379.2 157.2V163.0M375.9 163.0H382.5" stroke="#333" stroke-width="1" fill="none"/>
<path d="M386.4 107.3V100.5M383.1 100.5H389.7" stroke="#333" stroke-width="1" fill="none"/><path d="M386.4 107.3V114.0M383.1 114.0H389.7" stroke="#333" stroke-width="1" fill="none"/>
<path d="M392.8 75.6V63.1M389.5 63.1H396.1" stroke="#333" stroke-width="1" fill="none"/><path d="M392.8 75.6V87.9M389.5 87.9H396.1" stroke="#333" stroke-width="1" fill="none"/>
<path d="M401.7 164.6V158.7M398.4 158.7H405.0" stroke="#333" stroke-width="1" fill="none"/><path d="M401.7 164.6V171.4M398.4 171.4H405.0" stroke="#333" stroke-width="1" fill="none"/>

<path d="M415.2 140.2V131.7M411.9 131.7H418.5" stroke="#333" stroke-width="1" fill="none"/><path d="M415.2 140.2V151.1M411.9 151.1H418.5" stroke="#333" stroke-width="1" fill="none"/>

<polyline points="283.1,140.8 288.4,125.0 293.0,164.4 310.7,161.1 323.3,129.7 332.9,147.2 338.0,166.4 354.9,147.8 361.1,171.4 365.6,146.1 371.5,125.8 379.2,157.2 386.4,107.3 392.8,75.6 401.7,164.6 408.8,167.1 415.2,140.2 421.4,170.5" fill="none" stroke="#000" stroke-width="1.4" stroke-dasharray="1.3 2.9"/>
<polyline points="283.1,138.0 288.4,97.9 293.0,142.7 310.7,136.4 323.3,155.2 332.9,172.0 338.0,162.4 354.3,183.2 361.1,169.2 365.6,135.4 371.5,137.4 379.2,142.5 386.4,137.6 392.8,104.2 401.7,181.1 408.8,179.8 414.7,176.8 421.4,183.5" fill="none" stroke="#000" stroke-width="1.5"/>
<circle cx="283.1" cy="138.0" r="2.8" fill="#000"/>
<circle cx="288.4" cy="97.9" r="2.8" fill="#000"/>
<circle cx="293.0" cy="142.7" r="2.8" fill="#000"/>
<circle cx="310.7" cy="136.4" r="2.8" fill="#000"/>
<circle cx="323.3" cy="155.2" r="2.8" fill="#000"/>
<circle cx="332.9" cy="172.0" r="2.8" fill="#000"/>
<circle cx="338.0" cy="162.4" r="2.8" fill="#000"/>
<circle cx="354.3" cy="183.2" r="2.8" fill="#000"/>
<circle cx="361.1" cy="169.2" r="2.8" fill="#000"/>
<circle cx="365.6" cy="135.4" r="2.8" fill="#000"/>
<circle cx="371.5" cy="137.4" r="2.8" fill="#000"/>
<circle cx="379.2" cy="142.5" r="2.8" fill="#000"/>
<circle cx="386.4" cy="137.6" r="2.8" fill="#000"/>
<circle cx="392.8" cy="104.2" r="2.8" fill="#000"/>
<circle cx="401.7" cy="181.1" r="2.8" fill="#000"/>
<circle cx="408.8" cy="179.8" r="2.8" fill="#000"/>
<circle cx="414.7" cy="176.8" r="2.8" fill="#000"/>
<circle cx="421.4" cy="183.5" r="2.8" fill="#000"/>
<circle cx="283.1" cy="140.8" r="2.2" fill="#fff" stroke="#000" stroke-width="1.1"/>
<circle cx="288.4" cy="125.0" r="2.2" fill="#fff" stroke="#000" stroke-width="1.1"/>
<circle cx="293.0" cy="164.4" r="2.2" fill="#fff" stroke="#000" stroke-width="1.1"/>
<circle cx="310.7" cy="161.1" r="2.2" fill="#fff" stroke="#000" stroke-width="1.1"/>
<circle cx="323.3" cy="129.7" r="2.2" fill="#fff" stroke="#000" stroke-width="1.1"/>
<circle cx="332.9" cy="147.2" r="2.2" fill="#fff" stroke="#000" stroke-width="1.1"/>
<circle cx="338.0" cy="166.4" r="2.2" fill="#fff" stroke="#000" stroke-width="1.1"/>
<circle cx="354.9" cy="147.8" r="2.2" fill="#fff" stroke="#000" stroke-width="1.1"/>
<circle cx="361.1" cy="171.4" r="2.2" fill="#fff" stroke="#000" stroke-width="1.1"/>
<circle cx="365.6" cy="146.1" r="2.2" fill="#fff" stroke="#000" stroke-width="1.1"/>
<circle cx="371.5" cy="125.8" r="2.2" fill="#fff" stroke="#000" stroke-width="1.1"/>
<circle cx="379.2" cy="157.2" r="2.2" fill="#fff" stroke="#000" stroke-width="1.1"/>
<circle cx="386.4" cy="107.3" r="2.2" fill="#fff" stroke="#000" stroke-width="1.1"/>
<circle cx="392.8" cy="75.6" r="2.2" fill="#fff" stroke="#000" stroke-width="1.1"/>
<circle cx="401.7" cy="164.6" r="2.2" fill="#fff" stroke="#000" stroke-width="1.1"/>
<circle cx="408.8" cy="167.1" r="2.2" fill="#fff" stroke="#000" stroke-width="1.1"/>
<circle cx="415.2" cy="140.2" r="2.2" fill="#fff" stroke="#000" stroke-width="1.1"/>
<circle cx="421.4" cy="170.5" r="2.2" fill="#fff" stroke="#000" stroke-width="1.1"/>
</g>
<g>




<path d="M123.2 384.8V368.1M119.9 368.1H126.5" stroke="#333" stroke-width="1" fill="none"/><path d="M123.2 384.8V402.0M119.9 402.0H126.5" stroke="#333" stroke-width="1" fill="none"/>






<path d="M189.8 454.0V458.4M186.5 458.4H193.1" stroke="#333" stroke-width="1" fill="none"/>

<path d="M204.4 431.0V424.6M201.1 424.6H207.7" stroke="#333" stroke-width="1" fill="none"/><path d="M204.4 431.0V438.5M201.1 438.5H207.7" stroke="#333" stroke-width="1" fill="none"/>

<path d="M99.8 446.5V443.5M96.5 443.5H103.1" stroke="#333" stroke-width="1" fill="none"/><path d="M99.8 446.5V450.0M96.5 450.0H103.1" stroke="#333" stroke-width="1" fill="none"/>



<path d="M129.2 451.0V445.0M125.9 445.0H132.5" stroke="#333" stroke-width="1" fill="none"/>



<path d="M164.6 423.2V419.9M161.3 419.9H167.9" stroke="#333" stroke-width="1" fill="none"/>
<path d="M168.2 431.2V435.2M164.9 435.2H171.5" stroke="#333" stroke-width="1" fill="none"/>


<path d="M189.8 447.1V443.2M186.5 443.2H193.1" stroke="#333" stroke-width="1" fill="none"/>
<path d="M192.2 365.0V360.5M188.9 360.5H195.5" stroke="#333" stroke-width="1" fill="none"/><path d="M192.2 365.0V370.5M188.9 370.5H195.5" stroke="#333" stroke-width="1" fill="none"/>

<polyline points="94.7,465.5 99.8,446.5 105.2,468.5 117.1,461.4 123.0,423.7 129.2,451.0 135.8,464.6 150.4,465.1 154.0,454.4 164.6,423.2 168.2,431.2 177.8,456.4 181.2,449.1 189.8,447.1 192.2,365.0 204.2,416.0" fill="none" stroke="#000" stroke-width="1.4" stroke-dasharray="1.3 2.9"/>
<polyline points="94.7,462.0 99.8,454.8 105.2,468.0 117.1,460.8 123.2,384.8 129.0,454.2 135.5,464.6 150.6,465.1 154.0,463.1 166.6,427.2 177.8,455.8 189.8,454.0 192.5,448.6 204.4,431.0" fill="none" stroke="#000" stroke-width="1.5"/>
<circle cx="94.7" cy="462.0" r="2.8" fill="#000"/>
<circle cx="99.8" cy="454.8" r="2.8" fill="#000"/>
<circle cx="105.2" cy="468.0" r="2.8" fill="#000"/>
<circle cx="117.1" cy="460.8" r="2.8" fill="#000"/>
<circle cx="123.2" cy="384.8" r="2.8" fill="#000"/>
<circle cx="129.0" cy="454.2" r="2.8" fill="#000"/>
<circle cx="135.5" cy="464.6" r="2.8" fill="#000"/>
<circle cx="150.6" cy="465.1" r="2.8" fill="#000"/>
<circle cx="154.0" cy="463.1" r="2.8" fill="#000"/>
<circle cx="166.6" cy="427.2" r="2.8" fill="#000"/>
<circle cx="177.8" cy="455.8" r="2.8" fill="#000"/>
<circle cx="189.8" cy="454.0" r="2.8" fill="#000"/>
<circle cx="192.5" cy="448.6" r="2.8" fill="#000"/>
<circle cx="204.4" cy="431.0" r="2.8" fill="#000"/>
<circle cx="94.7" cy="465.5" r="2.2" fill="#fff" stroke="#000" stroke-width="1.1"/>
<circle cx="99.8" cy="446.5" r="2.2" fill="#fff" stroke="#000" stroke-width="1.1"/>
<circle cx="105.2" cy="468.5" r="2.2" fill="#fff" stroke="#000" stroke-width="1.1"/>
<circle cx="117.1" cy="461.4" r="2.2" fill="#fff" stroke="#000" stroke-width="1.1"/>
<circle cx="123.0" cy="423.7" r="2.2" fill="#fff" stroke="#000" stroke-width="1.1"/>
<circle cx="129.2" cy="451.0" r="2.2" fill="#fff" stroke="#000" stroke-width="1.1"/>
<circle cx="135.8" cy="464.6" r="2.2" fill="#fff" stroke="#000" stroke-width="1.1"/>
<circle cx="150.4" cy="465.1" r="2.2" fill="#fff" stroke="#000" stroke-width="1.1"/>
<circle cx="154.0" cy="454.4" r="2.2" fill="#fff" stroke="#000" stroke-width="1.1"/>
<circle cx="164.6" cy="423.2" r="2.2" fill="#fff" stroke="#000" stroke-width="1.1"/>
<circle cx="168.2" cy="431.2" r="2.2" fill="#fff" stroke="#000" stroke-width="1.1"/>
<circle cx="177.8" cy="456.4" r="2.2" fill="#fff" stroke="#000" stroke-width="1.1"/>
<circle cx="181.2" cy="449.1" r="2.2" fill="#fff" stroke="#000" stroke-width="1.1"/>
<circle cx="189.8" cy="447.1" r="2.2" fill="#fff" stroke="#000" stroke-width="1.1"/>
<circle cx="192.2" cy="365.0" r="2.2" fill="#fff" stroke="#000" stroke-width="1.1"/>
<circle cx="204.2" cy="416.0" r="2.2" fill="#fff" stroke="#000" stroke-width="1.1"/>
</g>
<g>
<path d="M306.3 459.9V463.6M303.0 463.6H309.6" stroke="#333" stroke-width="1" fill="none"/>

<path d="M316.7 458.5V455.3M313.4 455.3H320.0" stroke="#333" stroke-width="1" fill="none"/>

<path d="M334.4 438.9V435.2M331.1 435.2H337.7" stroke="#333" stroke-width="1" fill="none"/><path d="M334.4 438.9V443.2M331.1 443.2H337.7" stroke="#333" stroke-width="1" fill="none"/>





<path d="M379.4 452.1V454.5M376.1 454.5H382.7" stroke="#333" stroke-width="1" fill="none"/>
<path d="M389.6 433.1V425.7M386.3 425.7H392.9" stroke="#333" stroke-width="1" fill="none"/>


<path d="M403.5 421.9V415.0M400.2 415.0H406.8" stroke="#333" stroke-width="1" fill="none"/>
<path d="M416.0 421.5V413.9M412.7 413.9H419.3" stroke="#333" stroke-width="1" fill="none"/>
<path d="M306.3 453.1V450.5M303.0 450.5H309.6" stroke="#333" stroke-width="1" fill="none"/><path d="M306.3 453.1V456.0M303.0 456.0H309.6" stroke="#333" stroke-width="1" fill="none"/>
<path d="M311.6 449.3V446.8M308.3 446.8H314.9" stroke="#333" stroke-width="1" fill="none"/><path d="M311.6 449.3V452.0M308.3 452.0H314.9" stroke="#333" stroke-width="1" fill="none"/>







<path d="M376.4 412.2V409.8M373.1 409.8H379.7" stroke="#333" stroke-width="1" fill="none"/><path d="M376.4 412.2V414.8M373.1 414.8H379.7" stroke="#333" stroke-width="1" fill="none"/>



<path d="M401.4 454.9V457.5M398.1 457.5H404.7" stroke="#333" stroke-width="1" fill="none"/>
<path d="M403.0 450.0V447.5M399.7 447.5H406.3" stroke="#333" stroke-width="1" fill="none"/>
<path d="M416.0 425.7V438.9M412.7 438.9H419.3" stroke="#333" stroke-width="1" fill="none"/>
<polyline points="306.3,453.1 311.6,449.3 316.7,464.1 328.9,462.7 334.7,453.1 340.7,463.1 347.4,464.5 361.8,464.6 365.3,460.7 376.4,412.2 379.4,447.2 389.6,445.1 393.1,439.6 401.4,454.9 403.0,450.0 416.0,425.7" fill="none" stroke="#000" stroke-width="1.4" stroke-dasharray="1.3 2.9"/>
<polyline points="306.3,459.9 311.3,457.4 316.7,458.5 328.7,462.7 334.4,438.9 340.7,459.3 346.8,464.1 361.8,461.1 365.3,460.4 376.4,423.6 379.4,452.1 389.6,433.1 393.1,445.8 401.4,436.4 403.5,421.9 416.0,421.5" fill="none" stroke="#000" stroke-width="1.5"/>
<circle cx="306.3" cy="459.9" r="2.8" fill="#000"/>
<circle cx="311.3" cy="457.4" r="2.8" fill="#000"/>
<circle cx="316.7" cy="458.5" r="2.8" fill="#000"/>
<circle cx="328.7" cy="462.7" r="2.8" fill="#000"/>
<circle cx="334.4" cy="438.9" r="2.8" fill="#000"/>
<circle cx="340.7" cy="459.3" r="2.8" fill="#000"/>
<circle cx="346.8" cy="464.1" r="2.8" fill="#000"/>
<circle cx="361.8" cy="461.1" r="2.8" fill="#000"/>
<circle cx="365.3" cy="460.4" r="2.8" fill="#000"/>
<circle cx="376.4" cy="423.6" r="2.8" fill="#000"/>
<circle cx="379.4" cy="452.1" r="2.8" fill="#000"/>
<circle cx="389.6" cy="433.1" r="2.8" fill="#000"/>
<circle cx="393.1" cy="445.8" r="2.8" fill="#000"/>
<circle cx="401.4" cy="436.4" r="2.8" fill="#000"/>
<circle cx="403.5" cy="421.9" r="2.8" fill="#000"/>
<circle cx="416.0" cy="421.5" r="2.8" fill="#000"/>
<circle cx="306.3" cy="453.1" r="2.2" fill="#fff" stroke="#000" stroke-width="1.1"/>
<circle cx="311.6" cy="449.3" r="2.2" fill="#fff" stroke="#000" stroke-width="1.1"/>
<circle cx="316.7" cy="464.1" r="2.2" fill="#fff" stroke="#000" stroke-width="1.1"/>
<circle cx="328.9" cy="462.7" r="2.2" fill="#fff" stroke="#000" stroke-width="1.1"/>
<circle cx="334.7" cy="453.1" r="2.2" fill="#fff" stroke="#000" stroke-width="1.1"/>
<circle cx="340.7" cy="463.1" r="2.2" fill="#fff" stroke="#000" stroke-width="1.1"/>
<circle cx="347.4" cy="464.5" r="2.2" fill="#fff" stroke="#000" stroke-width="1.1"/>
<circle cx="361.8" cy="464.6" r="2.2" fill="#fff" stroke="#000" stroke-width="1.1"/>
<circle cx="365.3" cy="460.7" r="2.2" fill="#fff" stroke="#000" stroke-width="1.1"/>
<circle cx="376.4" cy="412.2" r="2.2" fill="#fff" stroke="#000" stroke-width="1.1"/>
<circle cx="379.4" cy="447.2" r="2.2" fill="#fff" stroke="#000" stroke-width="1.1"/>
<circle cx="389.6" cy="445.1" r="2.2" fill="#fff" stroke="#000" stroke-width="1.1"/>
<circle cx="393.1" cy="439.6" r="2.2" fill="#fff" stroke="#000" stroke-width="1.1"/>
<circle cx="401.4" cy="454.9" r="2.2" fill="#fff" stroke="#000" stroke-width="1.1"/>
<circle cx="403.0" cy="450.0" r="2.2" fill="#fff" stroke="#000" stroke-width="1.1"/>
<circle cx="416.0" cy="425.7" r="2.2" fill="#fff" stroke="#000" stroke-width="1.1"/>
</g>
<g>


<path d="M533.2 446.0V441.8M529.9 441.8H536.5" stroke="#333" stroke-width="1" fill="none"/><path d="M533.2 446.0V450.8M529.9 450.8H536.5" stroke="#333" stroke-width="1" fill="none"/>








<path d="M515.6 454.3V451.5M512.3 451.5H518.9" stroke="#333" stroke-width="1" fill="none"/>
<path d="M533.2 459.2V456.4M529.9 456.4H536.5" stroke="#333" stroke-width="1" fill="none"/><path d="M533.2 459.2V463.0M529.9 463.0H536.5" stroke="#333" stroke-width="1" fill="none"/>


<path d="M569.9 462.5V460.0M566.6 460.0H573.2" stroke="#333" stroke-width="1" fill="none"/><path d="M569.9 462.5V465.9M566.6 465.9H573.2" stroke="#333" stroke-width="1" fill="none"/>



<path d="M620.0 460.0V458.4M616.7 458.4H623.3" stroke="#333" stroke-width="1" fill="none"/><path d="M620.0 460.0V465.4M616.7 465.4H623.3" stroke="#333" stroke-width="1" fill="none"/>
<polyline points="511.0,464.0 515.6,454.3 533.2,459.2 545.0,463.3 550.3,465.4 569.9,462.5 584.0,459.4 593.5,457.6 605.4,460.0 620.0,460.0" fill="none" stroke="#000" stroke-width="1.4" stroke-dasharray="1.3 2.9"/>
<polyline points="511.0,463.6 515.6,462.6 533.2,446.0 544.3,464.7 549.9,465.4 569.3,462.6 583.8,463.8 593.5,460.0 605.4,460.5 620.0,462.1" fill="none" stroke="#000" stroke-width="1.5"/>
<circle cx="511.0" cy="463.6" r="2.8" fill="#000"/>
<circle cx="515.6" cy="462.6" r="2.8" fill="#000"/>
<circle cx="533.2" cy="446.0" r="2.8" fill="#000"/>
<circle cx="544.3" cy="464.7" r="2.8" fill="#000"/>
<circle cx="549.9" cy="465.4" r="2.8" fill="#000"/>
<circle cx="569.3" cy="462.6" r="2.8" fill="#000"/>
<circle cx="583.8" cy="463.8" r="2.8" fill="#000"/>
<circle cx="593.5" cy="460.0" r="2.8" fill="#000"/>
<circle cx="605.4" cy="460.5" r="2.8" fill="#000"/>
<circle cx="620.0" cy="462.1" r="2.8" fill="#000"/>
<circle cx="511.0" cy="464.0" r="2.2" fill="#fff" stroke="#000" stroke-width="1.1"/>
<circle cx="515.6" cy="454.3" r="2.2" fill="#fff" stroke="#000" stroke-width="1.1"/>
<circle cx="533.2" cy="459.2" r="2.2" fill="#fff" stroke="#000" stroke-width="1.1"/>
<circle cx="545.0" cy="463.3" r="2.2" fill="#fff" stroke="#000" stroke-width="1.1"/>
<circle cx="550.3" cy="465.4" r="2.2" fill="#fff" stroke="#000" stroke-width="1.1"/>
<circle cx="569.9" cy="462.5" r="2.2" fill="#fff" stroke="#000" stroke-width="1.1"/>
<circle cx="584.0" cy="459.4" r="2.2" fill="#fff" stroke="#000" stroke-width="1.1"/>
<circle cx="593.5" cy="457.6" r="2.2" fill="#fff" stroke="#000" stroke-width="1.1"/>
<circle cx="605.4" cy="460.0" r="2.2" fill="#fff" stroke="#000" stroke-width="1.1"/>
<circle cx="620.0" cy="460.0" r="2.2" fill="#fff" stroke="#000" stroke-width="1.1"/>
</g>
<g>
<path d="M73.1 724.5V733.5M69.8 733.5H76.4" stroke="#333" stroke-width="1" fill="none"/>
<path d="M78.8 652.8V618.5M75.5 618.5H82.1" stroke="#333" stroke-width="1" fill="none"/><path d="M78.8 652.8V688.4M75.5 688.4H82.1" stroke="#333" stroke-width="1" fill="none"/>
<path d="M85.7 697.8V688.8M82.4 688.8H89.0" stroke="#333" stroke-width="1" fill="none"/>





<path d="M73.1 717.9V710.4M69.8 710.4H76.4" stroke="#333" stroke-width="1" fill="none"/>
<path d="M78.8 645.7V602.5M75.5 602.5H82.1" stroke="#333" stroke-width="1" fill="none"/>
<path d="M85.7 709.1V729.7M82.4 729.7H89.0" stroke="#333" stroke-width="1" fill="none"/>
<path d="M113.8 685.4V681.3M110.5 681.3H117.1" stroke="#333" stroke-width="1" fill="none"/><path d="M113.8 685.4V690.3M110.5 690.3H117.1" stroke="#333" stroke-width="1" fill="none"/>
<path d="M140.9 717.6V705.3M137.6 705.3H144.2" stroke="#333" stroke-width="1" fill="none"/>
<path d="M145.8 648.1V604.0M142.5 604.0H149.1" stroke="#333" stroke-width="1" fill="none"/><path d="M145.8 648.1V693.5M142.5 693.5H149.1" stroke="#333" stroke-width="1" fill="none"/>

<path d="M172.3 702.2V698.0M169.0 698.0H175.6" stroke="#333" stroke-width="1" fill="none"/><path d="M172.3 702.2V708.0M169.0 708.0H175.6" stroke="#333" stroke-width="1" fill="none"/>
<polyline points="73.1,717.9 78.8,645.7 85.7,709.1 113.8,685.4 140.9,717.6 145.8,648.1 154.5,726.1 172.3,702.2" fill="none" stroke="#000" stroke-width="1.4" stroke-dasharray="1.3 2.9"/>
<polyline points="73.1,724.5 78.8,652.8 85.7,697.8 113.8,729.7 140.9,729.2 145.4,730.3 154.5,735.2 172.3,729.8" fill="none" stroke="#000" stroke-width="1.5"/>
<circle cx="73.1" cy="724.5" r="2.8" fill="#000"/>
<circle cx="78.8" cy="652.8" r="2.8" fill="#000"/>
<circle cx="85.7" cy="697.8" r="2.8" fill="#000"/>
<circle cx="113.8" cy="729.7" r="2.8" fill="#000"/>
<circle cx="140.9" cy="729.2" r="2.8" fill="#000"/>
<circle cx="145.4" cy="730.3" r="2.8" fill="#000"/>
<circle cx="154.5" cy="735.2" r="2.8" fill="#000"/>
<circle cx="172.3" cy="729.8" r="2.8" fill="#000"/>
<circle cx="73.1" cy="717.9" r="2.2" fill="#fff" stroke="#000" stroke-width="1.1"/>
<circle cx="78.8" cy="645.7" r="2.2" fill="#fff" stroke="#000" stroke-width="1.1"/>
<circle cx="85.7" cy="709.1" r="2.2" fill="#fff" stroke="#000" stroke-width="1.1"/>
<circle cx="113.8" cy="685.4" r="2.2" fill="#fff" stroke="#000" stroke-width="1.1"/>
<circle cx="140.9" cy="717.6" r="2.2" fill="#fff" stroke="#000" stroke-width="1.1"/>
<circle cx="145.8" cy="648.1" r="2.2" fill="#fff" stroke="#000" stroke-width="1.1"/>
<circle cx="154.5" cy="726.1" r="2.2" fill="#fff" stroke="#000" stroke-width="1.1"/>
<circle cx="172.3" cy="702.2" r="2.2" fill="#fff" stroke="#000" stroke-width="1.1"/>
</g>
<g>
<path d="M285.8 660.3V657.3M282.5 657.3H289.1" stroke="#333" stroke-width="1" fill="none"/><path d="M285.8 660.3V664.3M282.5 664.3H289.1" stroke="#333" stroke-width="1" fill="none"/>
<path d="M291.4 729.2V734.2M288.1 734.2H294.7" stroke="#333" stroke-width="1" fill="none"/>
<path d="M298.4 686.6V679.4M295.1 679.4H301.7" stroke="#333" stroke-width="1" fill="none"/>



<path d="M367.0 725.6V722.4M363.7 722.4H370.3" stroke="#333" stroke-width="1" fill="none"/>

<path d="M285.8 667.6V676.1M282.5 676.1H289.1" stroke="#333" stroke-width="1" fill="none"/>




<path d="M358.1 649.2V646.3M354.8 646.3H361.4" stroke="#333" stroke-width="1" fill="none"/><path d="M358.1 649.2V652.9M354.8 652.9H361.4" stroke="#333" stroke-width="1" fill="none"/>
<path d="M367.0 729.9V731.9M363.7 731.9H370.3" stroke="#333" stroke-width="1" fill="none"/>

<polyline points="285.8,667.6 291.4,726.4 298.4,693.1 326.4,735.5 353.5,735.5 358.1,649.2 367.0,729.9 384.6,728.2" fill="none" stroke="#000" stroke-width="1.4" stroke-dasharray="1.3 2.9"/>
<polyline points="285.8,660.3 291.4,729.2 298.4,686.6 326.2,735.5 353.5,735.5 358.1,723.3 367.0,725.6 384.6,734.8" fill="none" stroke="#000" stroke-width="1.5"/>
<circle cx="285.8" cy="660.3" r="2.8" fill="#000"/>
<circle cx="291.4" cy="729.2" r="2.8" fill="#000"/>
<circle cx="298.4" cy="686.6" r="2.8" fill="#000"/>
<circle cx="326.2" cy="735.5" r="2.8" fill="#000"/>
<circle cx="353.5" cy="735.5" r="2.8" fill="#000"/>
<circle cx="358.1" cy="723.3" r="2.8" fill="#000"/>
<circle cx="367.0" cy="725.6" r="2.8" fill="#000"/>
<circle cx="384.6" cy="734.8" r="2.8" fill="#000"/>
<circle cx="285.8" cy="667.6" r="2.2" fill="#fff" stroke="#000" stroke-width="1.1"/>
<circle cx="291.4" cy="726.4" r="2.2" fill="#fff" stroke="#000" stroke-width="1.1"/>
<circle cx="298.4" cy="693.1" r="2.2" fill="#fff" stroke="#000" stroke-width="1.1"/>
<circle cx="326.4" cy="735.5" r="2.2" fill="#fff" stroke="#000" stroke-width="1.1"/>
<circle cx="353.5" cy="735.5" r="2.2" fill="#fff" stroke="#000" stroke-width="1.1"/>
<circle cx="358.1" cy="649.2" r="2.2" fill="#fff" stroke="#000" stroke-width="1.1"/>
<circle cx="367.0" cy="729.9" r="2.2" fill="#fff" stroke="#000" stroke-width="1.1"/>
<circle cx="384.6" cy="728.2" r="2.2" fill="#fff" stroke="#000" stroke-width="1.1"/>
</g>
</svg></body></html>
